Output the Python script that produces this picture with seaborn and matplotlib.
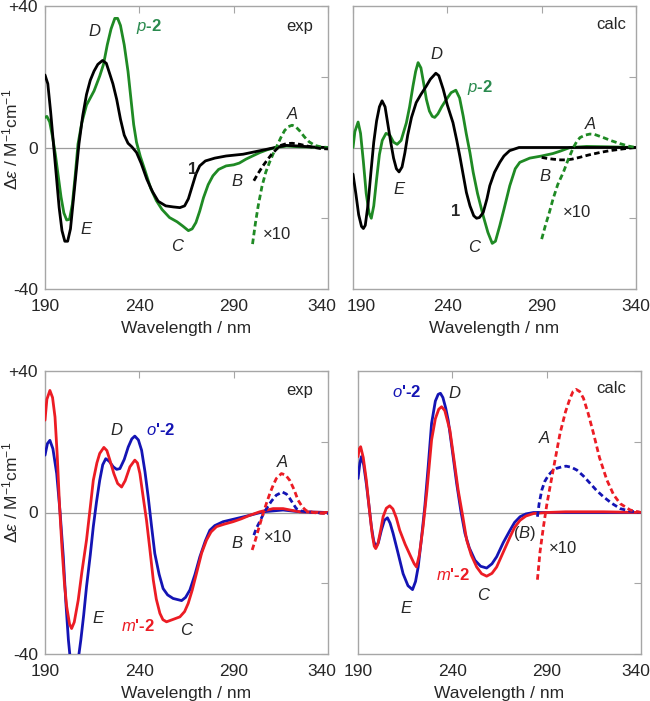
import matplotlib
matplotlib.use("Agg")
import matplotlib.pyplot as plt
from matplotlib.transforms import ScaledTranslation
import seaborn as sns

# ---------------- data ----------------
# Top-left: experimental, compound 1 and p-2
wl_exp_1 = [190, 191.5, 193, 194.5, 196, 197.5, 199, 200.5, 202, 203.5, 205, 206.5, 208, 210, 212, 214, 216, 218, 220.5, 222.5, 224.5, 226, 228, 230, 232, 234, 236, 238.5, 241, 244, 247, 250, 254, 258, 261.5, 264, 266, 268, 270, 272, 275, 280, 286, 295, 304, 312, 318, 325, 332, 340]
de_exp_1 = [20.5, 18, 10, 1, -8, -17, -23.5, -26.5, -26.5, -23, -15, -7, 1, 9, 15, 19, 21.6, 23.5, 24.6, 23.8, 20.5, 18, 13.6, 8, 3.5, 1.2, 0.2, -1.4, -4.5, -9, -12.5, -15.2, -16.5, -16.8, -17, -16.5, -14.5, -11, -7.5, -5.2, -3.8, -3, -2.4, -1.9, -0.9, 0, 0.6, 0.4, 0.1, 0]
wl_exp_p2 = [190, 191, 192.5, 194, 195.5, 197, 198.5, 200, 201.5, 203, 204.5, 206, 207.5, 209.5, 212, 214, 216, 219, 221, 223, 225, 227, 228.5, 230, 232, 234, 235.5, 237, 238.5, 240.5, 243, 246, 249, 252, 256, 260, 263, 266, 268, 270, 272, 274, 276.5, 279, 282, 286, 290, 293, 296.5, 300, 304, 308, 312.5, 318, 325, 340]
de_exp_p2 = [8.5, 8.8, 7.2, 3, -2, -8, -14, -18.5, -20.5, -20.3, -16, -8, 1, 7, 12, 14, 16, 20.2, 23.5, 29, 33.5, 36.5, 36.5, 34.5, 29, 21.5, 14, 6.5, 1.5, -2.5, -6.5, -11.5, -15, -17.5, -19.8, -21, -22.2, -23.5, -23, -21.2, -18, -14.2, -10.5, -8, -6.2, -5.2, -4.9, -4.4, -3.3, -2.4, -1.4, -0.6, 0, 0.4, 0.2, 0]
wl_exp_p2_x10 = [300, 301.5, 303, 305, 307, 309, 311, 313, 315, 317, 319, 321, 323, 325, 327.5, 330, 333, 336, 340]
de_exp_p2_x10 = [-27.3, -21.5, -16.5, -11, -7, -4.2, -1.7, 0.5, 2.8, 4.8, 5.9, 6.3, 5.8, 4.7, 3, 1.6, 0.6, 0.2, 0]
wl_exp_1_x10 = [300.7, 303, 305.5, 308, 310, 312.5, 315, 318, 321, 325, 329, 333, 336, 340]
de_exp_1_x10 = [-9.4, -7.3, -5.2, -3.4, -2, -0.6, 0.6, 1.1, 1.2, 0.9, 0.4, 0, -0.3, -0.4]

# Top-right: calculated, compound 1 and p-2
wl_calc_1 = [190, 191.5, 193, 194.5, 195.5, 196.5, 198, 199.5, 201, 202.5, 204, 205.4, 207, 208.5, 210, 211.5, 213, 214.4, 216, 217.5, 219, 221, 223.5, 226, 228.9, 231, 233.9, 235.5, 237.8, 240, 243, 245, 246.6, 248.5, 250.1, 252, 254, 255.5, 257, 259, 261, 262.5, 265, 267.8, 270, 273, 278, 340]
de_calc_1 = [-7.5, -13, -19, -22.3, -22.9, -22, -16, -7, 1.5, 7.5, 11.5, 13.2, 11.5, 6.5, 1.5, -3, -6, -6.9, -5.5, -1.5, 3.5, 8.5, 12.7, 15, 17.4, 19.3, 21, 20.3, 16.5, 12, 7, 2, -2.4, -8, -12.7, -16.5, -19.3, -20, -19.8, -18.4, -14.5, -10.8, -7, -4.2, -2.4, -0.9, 0, 0]
wl_calc_p2 = [190, 191, 192.7, 194, 195.5, 197, 198.5, 199.7, 201, 202.5, 204, 205.5, 207.5, 209.5, 211.5, 213.4, 215.5, 218.3, 220, 221.8, 223.2, 224.5, 226, 227.5, 228.9, 230.5, 232, 233.3, 235, 237, 239.5, 242, 244.5, 246.5, 248.4, 250, 252, 253.7, 256, 259, 261.5, 263.8, 265.5, 267.8, 270, 273.1, 276, 278.4, 283.7, 290, 296, 300, 305, 313.8, 325, 340]
de_calc_p2 = [0, 4.5, 7.2, 4, -4, -13, -18.5, -20, -16.5, -9, -2, 2, 4, 3.5, 1.5, 0.9, 2, 7, 11.5, 17.4, 21.5, 24, 22.5, 18, 13.6, 10.3, 8.8, 8.5, 9.5, 11.5, 13.6, 15.5, 16.2, 14, 8.9, 4, -1.5, -7, -13, -19.3, -24, -27.1, -26.5, -22.1, -17.5, -10.8, -6, -4.2, -3, -2.4, -1.7, -1, 0, 0.3, 0.2, 0]
wl_calc_1_x10 = [290, 293, 296, 300, 303, 306, 310, 315, 321, 326, 331.5, 336, 340]
de_calc_1_x10 = [-2.8, -3.1, -3.3, -3.5, -3.5, -3.3, -2.8, -2.1, -1.4, -0.9, -0.5, -0.2, 0]
wl_calc_p2_x10 = [290, 292, 294, 296, 298.5, 301.5, 304, 306.8, 308.5, 310.3, 313, 315.6, 318, 322.7, 327, 331.5, 336, 340]
de_calc_p2_x10 = [-25.9, -22, -18.5, -14.6, -10.5, -7, -3.5, 0, 1.6, 2.8, 3.5, 3.8, 3.7, 2.8, 1.9, 1.1, 0.4, 0]

# Bottom-left: experimental, m'-2 and o'-2
wl_exp_m2 = [190, 191, 192.6, 194, 195.3, 196.5, 197.7, 199, 200.3, 201.5, 203, 204.1, 205.5, 207.6, 209.5, 212, 214, 215.6, 217.5, 219, 221.2, 222.8, 224.4, 226.5, 228.5, 230.6, 232.5, 235, 237.6, 239, 240.3, 242, 243.8, 245.5, 247.4, 249, 250.9, 252.5, 254.4, 258, 261.5, 264, 265.9, 268, 270.3, 273, 275.6, 278, 280.9, 285, 289.7, 294, 298.5, 303.8, 310.9, 316.2, 320, 325, 340]
de_exp_m2 = [26.1, 32, 34.5, 32.5, 27, 16, 2, -10, -20, -26.6, -31.5, -32.8, -31, -24.8, -17, -7.8, 1.5, 9.1, 14, 16.7, 18.4, 17.5, 14.8, 11, 8.2, 7.2, 9, 12.9, 14.8, 14, 11, 4.5, -2.2, -10, -19.1, -24.5, -28.5, -30.3, -30.9, -30.2, -29.5, -28, -25.7, -22, -17.2, -11.5, -7.8, -5.5, -4, -3.3, -2.6, -1.8, -0.8, 0.2, 1.1, 1.1, 0.7, 0.2, 0]
wl_exp_o2 = [190, 191.3, 192.6, 194.2, 196.2, 198, 199.7, 201, 202.4, 203.5, 205, 206.5, 208, 209, 210.5, 212, 214, 215.6, 217.3, 219, 220.6, 222.2, 224, 226.2, 228, 229.7, 232, 234.1, 236, 237.6, 239.5, 241.2, 243, 244.7, 246.5, 248.2, 250.5, 252.6, 255, 257.9, 262.4, 264.5, 266.8, 269.5, 272.1, 275, 277.4, 280, 284.4, 291.5, 298.5, 305.6, 316.2, 325, 340]
de_exp_o2 = [16.2, 19.5, 20.4, 18, 11, 0, -12.5, -25, -36, -42, -45, -44, -40, -36, -29, -21, -12, -4, 3, 9.1, 13.5, 15.2, 14.5, 12.9, 12.2, 12.4, 15, 18.5, 20.8, 21.6, 20.5, 17.6, 11.5, 4.4, -4, -11.6, -17.5, -21.5, -23.3, -24.3, -24.9, -24, -21.9, -17.5, -12.5, -8, -5, -3.7, -2.6, -1.7, -0.8, 0.2, 0.7, 0.2, 0]
wl_exp_m2_x10 = [299.8, 301.5, 303, 305.6, 307.5, 309.2, 311, 312.6, 315.3, 317.5, 319.7, 322, 324.1, 326.5, 328.5, 332, 336, 340]
de_exp_m2_x10 = [-10.6, -7.8, -5, -0.3, 2.8, 5.4, 7.8, 9.6, 11, 10.6, 9.1, 6.5, 3.5, 1.5, 0.5, 0, -0.2, -0.3]
wl_exp_o2_x10 = [300.7, 302, 303.8, 305.5, 307.4, 310, 312.6, 315.8, 318, 319.7, 321.5, 323.2, 326, 328.5, 333, 340]
de_exp_o2_x10 = [-6.4, -4.5, -2.6, -0.7, 1.1, 3.2, 4.9, 5.8, 5.2, 4, 2.5, 1.1, 0.4, 0.2, 0, -0.3]

# Bottom-right: calculated, o'-2 and m'-2
wl_calc_o2 = [190, 191, 191.8, 193, 194.4, 195.8, 197.1, 198.3, 199.4, 200.8, 202.4, 204, 205.6, 207, 208.6, 211, 213.9, 216.5, 218.9, 220.5, 221.9, 223.5, 225.4, 227.2, 229, 231, 232.5, 233.7, 235, 236.5, 237.8, 240, 242.3, 244.5, 246.7, 249, 252, 255, 258.2, 261, 263.5, 267, 270.6, 273, 275.9, 279, 283, 340]
de_calc_o2 = [9.6, 14, 15.8, 13.5, 8.2, 2, -4, -8, -9.7, -8.5, -5, -2.2, -1.5, -3, -5.9, -11, -17.3, -20.7, -21.8, -19.5, -15.4, -8, 1.6, 13, 25.2, 31.5, 33.4, 33.7, 32.5, 29.5, 26.1, 17.5, 8.2, 0.5, -5.9, -10, -13.5, -15.2, -15.7, -14.5, -12.5, -8.5, -5, -2.8, -1.2, -0.4, 0, 0]
wl_calc_m2 = [190, 190.7, 191.4, 192.8, 194.4, 196, 197.5, 198.6, 199.4, 200.5, 202, 203.3, 205, 206.8, 208.5, 210.3, 212.1, 215, 218, 219.8, 221, 222.5, 224.5, 226.5, 229, 231, 232.8, 234.3, 236, 238.7, 241, 243.1, 245.5, 247.6, 250, 252.9, 255.5, 258.2, 261, 263.5, 267, 270.6, 273, 275.9, 279, 283, 290, 300, 320, 340]
de_calc_m2 = [15.8, 18, 18.6, 15.5, 9.2, 1, -6, -9.5, -10.2, -9, -5, -1.2, 1.2, 1.9, 1, -1.5, -5, -9, -12.5, -14.5, -15.4, -12, -4, 6, 20.5, 26.5, 29.2, 29.9, 28.8, 23.3, 14.5, 6.3, -1, -7.8, -12, -15.4, -17.3, -18, -17.2, -15.4, -11.2, -6.9, -4.2, -2.2, -1, -0.3, 0, 0.2, 0.2, 0]
wl_calc_m2_x10 = [285.1, 286.5, 288.3, 290, 291.8, 294.5, 297.1, 300, 302.4, 304, 305.6, 307.5, 309.5, 312, 314.8, 318, 321.9, 325.5, 329, 334.3, 340]
de_calc_m2_x10 = [-19, -11, -4, 2, 7.3, 15, 22.4, 28.5, 32.3, 34.2, 34.8, 34.2, 32.3, 28, 22.4, 15.5, 9.2, 5, 2.5, 0.7, 0]
wl_calc_o2_x10 = [285.1, 286, 287.4, 289, 291, 293, 295.4, 298, 300.3, 303, 306, 309.5, 313.1, 316.5, 320.2, 324.5, 329, 334, 340]
de_calc_o2_x10 = [-1.2, 2.5, 6.3, 8.8, 10.6, 11.7, 12.5, 12.9, 13.1, 12.8, 12, 10.3, 8.2, 6.2, 4.4, 2.6, 1.1, 0.4, 0]

x_ticks = [190, 240, 290, 340]
y_ticks = [-40, -20, 0, 20, 40]
y_ticklabels = ["-40", "", "0", "", "+40"]

# ---------------- style ----------------
sns.set_theme(style="white")
plt.rcParams["font.family"] = ["Liberation Sans", "DejaVu Sans"]
plt.rcParams["mathtext.fontset"] = "custom"
plt.rcParams["mathtext.rm"] = "Liberation Sans"
plt.rcParams["mathtext.it"] = "Liberation Sans:italic"
plt.rcParams["mathtext.bf"] = "Liberation Sans:bold"

GREEN = "#1f8a24"
GREEN_T = "#2a8a4e"
BLACK = "#000000"
BLUE = "#1414b4"
RED = "#ec1c24"
GRAY = "#a6a6a6"
DASH = (0, (2.0, 1.2))
LW = 2.0

fig = plt.figure(figsize=(6.5, 7.01), dpi=100)
W, H = 650, 701


def make_ax(left, top, right, bottom):
    return fig.add_axes([left / W, 1 - bottom / H, (right - left) / W, (bottom - top) / H])


ax_tl = make_ax(45, 6, 328, 289)
ax_tr = make_ax(353, 6, 636, 289)
ax_bl = make_ax(45, 371, 328, 654)
ax_br = make_ax(358, 371, 641, 654)

ylabel = r"$\Delta\mathit{ε}$ / M$^{\mathregular{-1}}$cm$^{\mathregular{-1}}$"

for ax, left_side in [(ax_tl, True), (ax_tr, False), (ax_bl, True), (ax_br, False)]:
    ax.axhline(0, color="#9c9c9c", lw=0.9, zorder=1)
    ax.set_xlim(190, 340)
    ax.set_ylim(-40, 40)
    ax.set_xticks(x_ticks)
    ax.set_xticklabels([str(t) for t in x_ticks])
    ax.set_yticks(y_ticks)
    if left_side:
        ax.set_yticklabels(y_ticklabels)
        ax.set_ylabel(ylabel, fontsize=12.5)
    else:
        ax.set_yticklabels([])
    ax.set_xlabel("Wavelength / nm", fontsize=12.5, labelpad=5)
    ax.tick_params(axis="both", direction="in", length=5, width=0.8, color=GRAY,
                   top=True, right=True, labelsize=12.5)
    ax.tick_params(axis="x", pad=7)
    ax.tick_params(axis="y", pad=5)
    for s in ax.spines.values():
        s.set_color(GRAY)
        s.set_linewidth(1.0)

ax_tl.yaxis.set_label_coords(-0.088, 0.53)
ax_bl.yaxis.set_label_coords(-0.088, 0.57)


def shift_xlabel(ax, idx, dx_px):
    t = ax.get_xticklabels()[idx]
    t.set_transform(t.get_transform() + ScaledTranslation(dx_px / 100, 0, fig.dpi_scale_trans))


shift_xlabel(ax_tl, -1, -6)
shift_xlabel(ax_bl, -1, -6)
shift_xlabel(ax_tr, 0, 8)
shift_xlabel(ax_br, -1, -5)


def curve(ax, x, y, color, dashed=False):
    kw = dict(linestyle=DASH) if dashed else {}
    sns.lineplot(x=x, y=y, ax=ax, color=color, linewidth=LW, sort=False,
                 estimator=None, zorder=3, **kw)


# top-left
curve(ax_tl, wl_exp_p2, de_exp_p2, GREEN)
curve(ax_tl, wl_exp_1, de_exp_1, BLACK)
curve(ax_tl, wl_exp_p2_x10, de_exp_p2_x10, GREEN, dashed=True)
curve(ax_tl, wl_exp_1_x10, de_exp_1_x10, BLACK, dashed=True)
# top-right
curve(ax_tr, wl_calc_p2, de_calc_p2, GREEN)
curve(ax_tr, wl_calc_1, de_calc_1, BLACK)
curve(ax_tr, wl_calc_1_x10, de_calc_1_x10, BLACK, dashed=True)
curve(ax_tr, wl_calc_p2_x10, de_calc_p2_x10, GREEN, dashed=True)
# bottom-left
curve(ax_bl, wl_exp_o2, de_exp_o2, BLUE)
curve(ax_bl, wl_exp_m2, de_exp_m2, RED)
curve(ax_bl, wl_exp_o2_x10, de_exp_o2_x10, BLUE, dashed=True)
curve(ax_bl, wl_exp_m2_x10, de_exp_m2_x10, RED, dashed=True)
# bottom-right
curve(ax_br, wl_calc_o2, de_calc_o2, BLUE)
curve(ax_br, wl_calc_m2, de_calc_m2, RED)
curve(ax_br, wl_calc_o2_x10, de_calc_o2_x10, BLUE, dashed=True)
curve(ax_br, wl_calc_m2_x10, de_calc_m2_x10, RED, dashed=True)

FS = 12


def lab(ax, x, y, s, **kw):
    kw.setdefault("fontsize", FS)
    ax.text(x, y, s, ha="center", va="center", zorder=5, **kw)


# annotations top-left
lab(ax_tl, 325, 34.3, "exp")
lab(ax_tl, 216, 32.9, "D", style="italic")
lab(ax_tl, 245, 34.3, r"$\mathit{p}$-2", color=GREEN_T, fontweight="bold")
lab(ax_tl, 268, -6.2, "1", fontweight="bold")
lab(ax_tl, 291.7, -9.6, "B", style="italic")
lab(ax_tl, 211.7, -23.3, "E", style="italic")
lab(ax_tl, 260, -28, "C", style="italic")
lab(ax_tl, 313, -24.7, "×10")
lab(ax_tl, 321, 9.4, "A", style="italic")
# top-right
lab(ax_tr, 327, 34.9, "calc")
lab(ax_tr, 234.3, 26.4, "D", style="italic")
lab(ax_tr, 257.5, 17, r"$\mathit{p}$-2", color=GREEN_T, fontweight="bold")
lab(ax_tr, 214.4, -11.9, "E", style="italic")
lab(ax_tr, 244.6, -18.2, "1", fontweight="bold")
lab(ax_tr, 254, -28.4, "C", style="italic")
lab(ax_tr, 291.7, -8.2, "B", style="italic")
lab(ax_tr, 308.5, -18.4, "×10")
lab(ax_tr, 315.6, 6.5, "A", style="italic")
# bottom-left
lab(ax_bl, 325, 34.5, "exp")
lab(ax_bl, 228, 23.2, "D", style="italic")
lab(ax_bl, 251.5, 23.2, r"$\mathit{o}$'-2", color=BLUE, fontweight="bold")
lab(ax_bl, 315.6, 14.1, "A", style="italic")
lab(ax_bl, 291.7, -8.8, "B", style="italic")
lab(ax_bl, 313.5, -7, "×10")
lab(ax_bl, 218, -30, "E", style="italic")
lab(ax_bl, 239.5, -32, r"$\mathit{m}$'-2", color=RED, fontweight="bold")
lab(ax_bl, 265, -33.4, "C", style="italic")
# bottom-right
lab(ax_br, 324.4, 35, "calc")
lab(ax_br, 216, 34, r"$\mathit{o}$'-2", color=BLUE, fontweight="bold")
lab(ax_br, 241.4, 33.6, "D", style="italic")
lab(ax_br, 288.6, 20.9, "A", style="italic")
lab(ax_br, 278.5, -6, r"($\mathit{B}$)")
lab(ax_br, 298.5, -10.2, "×10")
lab(ax_br, 240.2, -17.8, r"$\mathit{m}$'-2", color=RED, fontweight="bold")
lab(ax_br, 256.2, -23.5, "C", style="italic")
lab(ax_br, 215.4, -27.1, "E", style="italic")

fig.savefig("out.png", dpi=100)
